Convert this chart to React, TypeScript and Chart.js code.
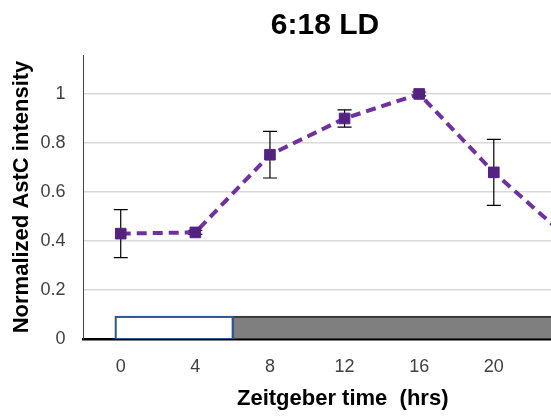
import React, { useEffect, useRef } from "react";
import { Chart, registerables } from "chart.js";

Chart.register(...registerables);

const titleText = "6:18 LD";
const hours = [0, 4, 8, 12, 16, 20, 24];
const intensity = [0.43, 0.435, 0.752, 0.9, 1.0, 0.68, 0.41];
const errors = [0.098, 0.008, 0.095, 0.035, 0.008, 0.135, 0.05];
const xTicks = [0, 4, 8, 12, 16, 20, 24];
const yTicks = [0, 0.2, 0.4, 0.6, 0.8, 1];
const lightPeriod = [0, 6];
const darkPeriod = [6, 26];
const barTop = 0.09;

const FONT = "Liberation Sans, Arial, sans-serif";

const lightDarkPlugin = {
  id: "lightDark",
  beforeDatasetsDraw(chart: any) {
    const { ctx, scales, chartArea } = chart;
    const x = scales.x;
    const y = scales.y;
    const y0 = y.getPixelForValue(0);
    const y1 = y.getPixelForValue(barTop);
    ctx.save();
    ctx.beginPath();
    ctx.rect(chartArea.left, chartArea.top, chartArea.right - chartArea.left, chartArea.bottom - chartArea.top);
    ctx.clip();
    const dx0 = x.getPixelForValue(darkPeriod[0]);
    const dx1 = x.getPixelForValue(darkPeriod[1]);
    ctx.fillStyle = "#7f7f7f";
    ctx.fillRect(dx0, y1, dx1 - dx0, y0 - y1);
    ctx.strokeStyle = "#3a3a3a";
    ctx.lineWidth = 2;
    ctx.strokeRect(dx0, y1, dx1 - dx0, y0 - y1);
    const lx0 = x.getPixelForValue(lightPeriod[0]) - 5;
    const lx1 = x.getPixelForValue(lightPeriod[1]);
    ctx.fillStyle = "#ffffff";
    ctx.fillRect(lx0, y1, lx1 - lx0, y0 - y1);
    ctx.strokeStyle = "#2f5597";
    ctx.lineWidth = 2;
    ctx.strokeRect(lx0, y1, lx1 - lx0, y0 - y1);
    ctx.restore();

    ctx.save();
    ctx.strokeStyle = "#000";
    ctx.lineWidth = 1.2;
    hours.forEach((h, i) => {
      const px = x.getPixelForValue(h);
      const top = y.getPixelForValue(intensity[i] + errors[i]);
      const bot = y.getPixelForValue(intensity[i] - errors[i]);
      ctx.beginPath();
      ctx.moveTo(px, top);
      ctx.lineTo(px, bot);
      ctx.moveTo(px - 7, top);
      ctx.lineTo(px + 7, top);
      ctx.moveTo(px - 7, bot);
      ctx.lineTo(px + 7, bot);
      ctx.stroke();
    });
    ctx.restore();
  },
};

const titlePlugin = {
  id: "pageTitle",
  afterDraw(chart: any) {
    const { ctx } = chart;
    ctx.save();
    ctx.fillStyle = "#000";
    ctx.font = `bold 30px ${FONT}`;
    ctx.textAlign = "center";
    ctx.textBaseline = "alphabetic";
    ctx.fillText(titleText, chart.width / 2, 34);
    ctx.restore();
  },
};

export default function App() {
  const ref = useRef<HTMLCanvasElement>(null);
  useEffect(() => {
    if (!ref.current) return;
    const chart = new Chart(ref.current, {
      type: "line",
      data: {
        datasets: [
          {
            data: hours.map((h, i) => ({ x: h, y: intensity[i] })),
            borderColor: "#7030a0",
            borderWidth: 4,
            borderDash: [10, 6],
            pointStyle: "rect",
            pointRadius: 7.5,
            pointBackgroundColor: "#542382",
            pointBorderColor: "#542382",
            pointBorderWidth: 1,
            tension: 0,
          },
        ],
      },
      options: {
        animation: false,
        responsive: false,
        layout: { padding: { left: 0, right: 48, top: 55, bottom: 7 } },
        plugins: {
          legend: { display: false },
          tooltip: { enabled: false },
          title: { display: false },
        },
        scales: {
          x: {
            type: "linear",
            min: -2,
            max: 25.8,
            afterBuildTicks: (s: any) => {
              s.ticks = xTicks.map((v) => ({ value: v }));
            },
            grid: { display: false, drawTicks: false },
            border: { color: "#000", width: 2.5 },
            ticks: {
              color: "#404040",
              padding: 17,
              font: { family: FONT, size: 18 },
            },
            title: {
              display: true,
              text: "Zeitgeber time  (hrs)",
              color: "#000",
              font: { family: FONT, size: 22, weight: "bold" },
              padding: { top: -9, bottom: 0 },
            },
          },
          y: {
            min: 0,
            max: 1.159,
            afterBuildTicks: (s: any) => {
              s.ticks = yTicks.map((v) => ({ value: v }));
            },
            afterFit: (s: any) => {
              s.width = s.width - 18;
            },
            grid: {
              drawTicks: false,
              color: (c: any) => (c.tick && c.tick.value === 0 ? "rgba(0,0,0,0)" : "#d9d9d9"),
              lineWidth: 1.5,
            },
            border: { color: "#404040", width: 1 },
            ticks: {
              color: "#404040",
              padding: 18,
              font: { family: FONT, size: 18 },
              callback: (v: any) => String(v),
            },
            title: {
              display: true,
              text: "Normalized AstC intensity",
              color: "#000",
              font: { family: FONT, size: 22, weight: "bold" },
              padding: { top: 9, bottom: 5 },
            },
          },
        },
      },
      plugins: [lightDarkPlugin, titlePlugin],
    });
    return () => chart.destroy();
  }, []);
  return (
    <div style={{ position: "absolute", left: 0, top: 0, width: 551, height: 419, overflow: "hidden", background: "#fff" }}>
      <canvas ref={ref} width={650} height={419} style={{ width: 650, height: 419, display: "block" }} />
    </div>
  );
}
